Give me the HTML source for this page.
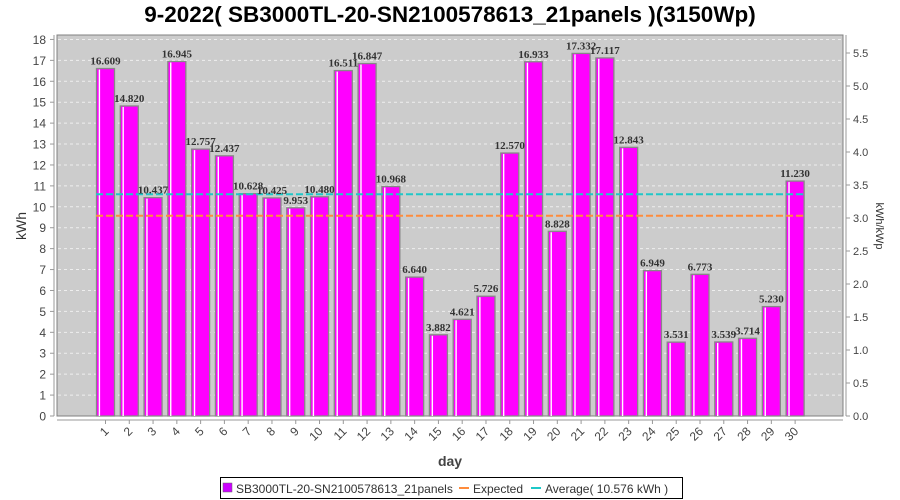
<!DOCTYPE html>
<html><head><meta charset="utf-8"><style>body{margin:0;background:#fff}svg{display:block}</style></head>
<body>
<svg id="s" width="900" height="500" xmlns="http://www.w3.org/2000/svg" font-family="Liberation Sans, sans-serif">
<rect width="900" height="500" fill="#fff"/>
<text x="450" y="22" text-anchor="middle" font-size="22.5" font-weight="bold" fill="#000">9-2022( SB3000TL-20-SN2100578613_21panels )(3150Wp)</text>
<rect x="57" y="35" width="786" height="381" fill="#cccccc" stroke="#808080" stroke-width="1"/>
<g id="grid"></g>
<g id="bars"></g>
<line x1="96" y1="215.7" x2="805" y2="215.7" stroke="#ff8c3c" stroke-width="2" stroke-dasharray="7,3"/>
<line x1="96" y1="194.3" x2="805" y2="194.3" stroke="#1ec8c8" stroke-width="2" stroke-dasharray="7,3"/>
<g id="labels" font-family="Liberation Serif, serif" font-weight="bold" font-size="11" fill="#333" text-anchor="middle"></g>
<g id="axes" font-size="12" fill="#444"></g>
<text transform="translate(26,226) rotate(-90)" text-anchor="middle" font-size="14" fill="#333">kWh</text>
<text transform="translate(876,226) rotate(90)" text-anchor="middle" font-size="11" fill="#333">kWh/kWp</text>
<text x="450" y="466" text-anchor="middle" font-size="14" font-weight="bold" fill="#444">day</text>
<rect x="220.5" y="477.5" width="462" height="21" fill="#fff" stroke="#000"/>
<rect x="223" y="483" width="9" height="9" fill="#cc00ff" stroke="#666" stroke-width="0.5"/>
<text x="236" y="493" font-size="12" fill="#333">SB3000TL-20-SN2100578613_21panels</text>
<line x1="459" y1="488" x2="469" y2="488" stroke="#ff8c3c" stroke-width="2"/>
<text x="473" y="493" font-size="12" fill="#333">Expected</text>
<line x1="531" y1="488" x2="541" y2="488" stroke="#1ec8c8" stroke-width="2"/>
<text x="545" y="493" font-size="12" fill="#333">Average( 10.576 kWh )</text>
</svg>
<script>
var v=[16.609,14.820,10.437,16.945,12.757,12.437,10.628,10.425,9.953,10.480,16.511,16.847,10.968,6.640,3.882,4.621,5.726,12.570,16.933,8.828,17.332,17.117,12.843,6.949,3.531,6.773,3.539,3.714,5.230,11.230];
var NS="http://www.w3.org/2000/svg";
function el(p,t,a,txt){var e=document.createElementNS(NS,t);for(var k in a)e.setAttribute(k,a[k]);if(txt!=null)e.textContent=txt;document.getElementById(p).appendChild(e);}
var y0=416,sc=20.92;
for(var i=1;i<=18;i++){var y=y0-i*sc;el('grid','line',{x1:58,x2:842,y1:y,y2:y,stroke:'#eee','stroke-width':1,'stroke-dasharray':'3,3'});}
for(var i=0;i<=18;i++){var y=y0-i*sc;el('axes','text',{x:46,y:y+4.5,'text-anchor':'end'},String(i));el('axes','line',{x1:50,x2:54,y1:y,y2:y,stroke:'#999'});}
el('axes','line',{x1:54,x2:54,y1:35,y2:416,stroke:'#999'});
el('axes','line',{x1:846,x2:846,y1:35,y2:416,stroke:'#999'});
el('axes','line',{x1:57,x2:843,y1:420,y2:420,stroke:'#999'});
for(var i=0;i<=11;i++){var val=i*0.5,y=y0-val*66;el('axes','text',{x:853,y:y+4,'font-size':11},val.toFixed(1));el('axes','line',{x1:846,x2:850,y1:y,y2:y,stroke:'#999'});}
for(var i=0;i<30;i++){var cx=105.5+i*23.78,h=v[i]*sc,t=y0-h;
el('bars','rect',{x:cx-9,y:t,width:18,height:h,fill:'#ff00ff',stroke:'#888','stroke-width':1.3});
el('bars','rect',{x:cx-6.8,y:t+1,width:1.4,height:h-1,fill:'#fff'});
el('labels','text',{x:cx,y:t-4},v[i].toFixed(3));
el('axes','line',{x1:cx,x2:cx,y1:420,y2:424,stroke:'#999'});
el('axes','text',{x:0,y:0,'text-anchor':'end','font-size':12,transform:'translate('+(cx+4)+',432) rotate(-45)'},String(i+1));}
</script>
</body></html>
